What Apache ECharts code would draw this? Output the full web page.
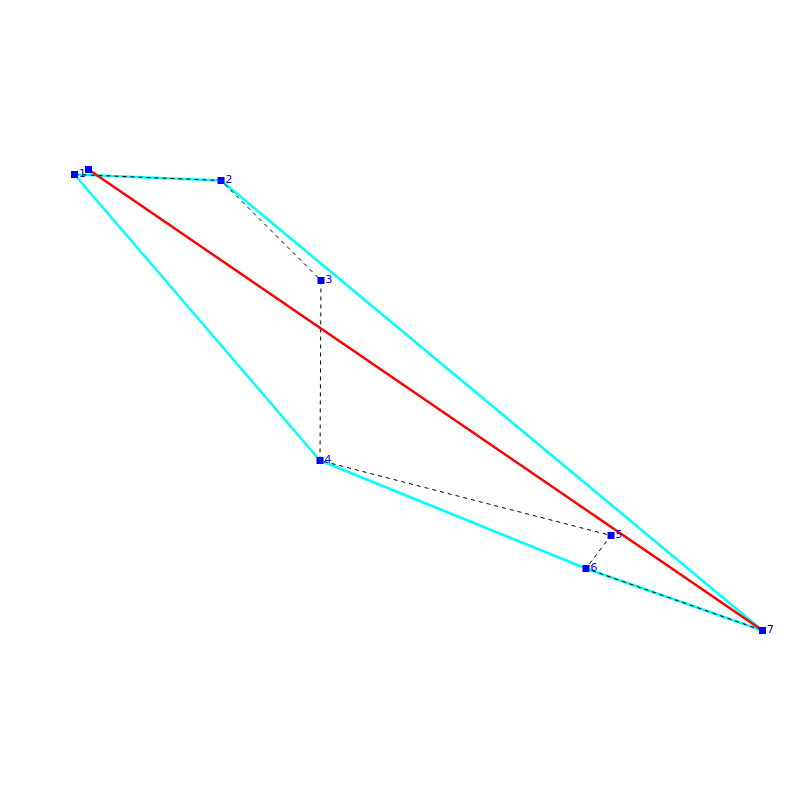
<!DOCTYPE html>
<html>
<head>
<meta charset="utf-8">
<style>html,body{margin:0;padding:0;background:#fff}#c{width:800px;height:800px}</style>
<script src="https://cdn.jsdelivr.net/npm/echarts@6/dist/echarts.min.js"></script>
</head>
<body>
<div id="c"></div>
<script>
const pathPoints = [[74.5,174.5],[221,180.5],[321,280.5],[320,460.5],[611,535.5],[586,568.5],[762.5,630.5]];
const pointLabels = ['1','2','3','4','5','6','7'];
const hullPoints = [[74.5,174.5],[221,180.5],[762.5,630.5],[586,568.5],[320,460.5],[74.5,174.5]];
const fitLine = [[88.5,169.5],[762.5,630.5]];
const extraPoint = [[88.5,169.5]];

const chart = echarts.init(document.getElementById('c'), null, {renderer:'canvas', devicePixelRatio:1});
const lineBase = {type:'line', symbol:'none', silent:true, animation:false};
chart.setOption({
  animation:false,
  backgroundColor:'#ffffff',
  grid:{left:0,top:0,width:800,height:800},
  xAxis:{type:'value',min:0,max:800,show:false},
  yAxis:{type:'value',min:0,max:800,inverse:true,show:false},
  series:[
    {...lineBase,data:hullPoints,z:2,lineStyle:{color:'#00ffff',width:2.5,opacity:1}},
    {...lineBase,data:pathPoints,z:3,lineStyle:{color:'#000000',width:1,type:[4,4],opacity:1}},
    {...lineBase,data:fitLine,z:4,lineStyle:{color:'#ff0000',width:2.5,opacity:1}},
    {type:'scatter',data:extraPoint,symbol:'rect',symbolSize:7,z:5,silent:true,
      itemStyle:{color:'#0000ff',opacity:1}},
    {type:'scatter',data:pathPoints,symbol:'rect',symbolSize:7,z:5,silent:true,
      itemStyle:{color:'#0000ff',opacity:1},
      label:{show:true,position:'right',distance:1,color:'#0000ff',fontSize:11,
        fontFamily:'DejaVu Sans',
        formatter:p=>pointLabels[p.dataIndex]}}
  ]
});
</script>
</body>
</html>
